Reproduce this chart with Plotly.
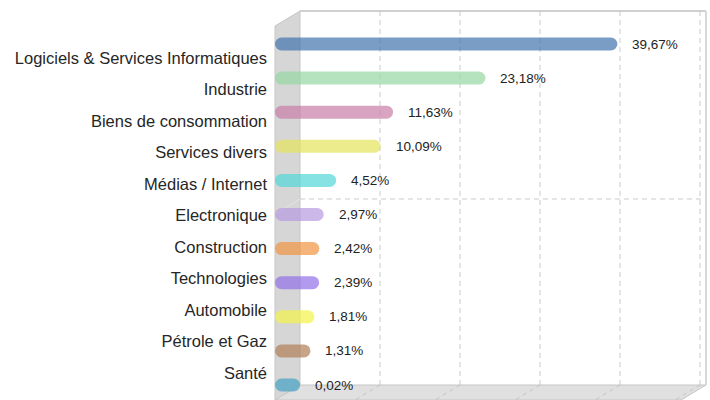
import plotly.graph_objects as go

# ---------------- data ----------------
CATEGORIES = [
    "Logiciels & Services Informatiques", "Industrie", "Biens de consommation",
    "Services divers", "Médias / Internet", "Electronique", "Construction",
    "Technologies", "Automobile", "Pétrole et Gaz", "Santé",
]
VALUES = [39.67, 23.18, 11.63, 10.09, 4.52, 2.97, 2.42, 2.39, 1.81, 1.31, 0.02]
COLORS = ["#4174AC", "#95D7A1", "#C77EA6", "#E4E45B", "#51D7D9", "#B89AE1",
          "#F19441", "#926FE7", "#F4F247", "#B07E55", "#45A1C4"]
GRID_TICKS = [10, 20, 30, 40, 50]

# ---------------- geometry / style ----------------
W, H = 710, 400
PLOT_L = 270
X0_PX, PX_PER_UNIT = 300, 8.0
DX, DY = 25, 15
WALL_TOP, WALL_BOTTOM, WALL_RIGHT = 11, 385, 706
BAR_Y0, BAR_STEP, BAR_PX = 44, 34.1, 13
LAB_Y0, LAB_STEP = 58, 31.5
ALPHA = 0.7
DEPTH_UNITS = DX / PX_PER_UNIT


def xd(px):
    return (px - X0_PX) / PX_PER_UNIT


def yp(py):
    return 1 - py / H


def rgba(hexc, a):
    h = hexc.lstrip("#")
    return "rgba(%d,%d,%d,%.2f)" % (int(h[0:2], 16), int(h[2:4], 16), int(h[4:6], 16), a)


idx = list(range(len(CATEGORIES)))
fill = [rgba(c, ALPHA) for c in COLORS]
bar_w = BAR_PX / BAR_STEP

fig = go.Figure()
fig.add_trace(go.Bar(
    orientation="h", y=idx, base=[-DEPTH_UNITS] * len(VALUES),
    x=[v + DEPTH_UNITS for v in VALUES],
    width=bar_w, marker=dict(color=fill, line=dict(width=0), cornerradius="50%"),
    hoverinfo="skip", showlegend=False,
))
# invisible trace to carry the category label axis
fig.add_trace(go.Scatter(
    x=[0] * len(idx), y=idx, yaxis="y2", mode="markers",
    marker=dict(opacity=0), hoverinfo="skip", showlegend=False,
))

annotations = []
for i, v in zip(idx, VALUES):
    annotations.append(dict(
        x=v, y=i, xref="x", yref="y", xanchor="left", yanchor="middle",
        xshift=13, showarrow=False,
        text=("%.2f" % v).replace(".", ",") + "%",
        font=dict(family="Liberation Sans, Arial, sans-serif", size=13.5, color="#222"),
    ))

grid_col = "#CBCBCB"
edge_col = "#C6C6C6"
shapes = [
    # side wall
    dict(type="path", xref="x", yref="paper", layer="below",
         path="M %f,%f L %f,%f L %f,%f L %f,%f Z" % (
             xd(X0_PX - DX), yp(WALL_TOP + DY), xd(X0_PX), yp(WALL_TOP),
             xd(X0_PX), yp(WALL_BOTTOM), xd(X0_PX - DX), yp(WALL_BOTTOM + DY)),
         fillcolor="#D6D6D6", line=dict(color=edge_col, width=1)),
    # floor
    dict(type="path", xref="x", yref="paper", layer="below",
         path="M %f,%f L %f,%f L %f,%f L %f,%f Z" % (
             xd(X0_PX - DX), yp(WALL_BOTTOM + DY), xd(X0_PX), yp(WALL_BOTTOM),
             xd(WALL_RIGHT), yp(WALL_BOTTOM), xd(WALL_RIGHT - DX), yp(WALL_BOTTOM + DY)),
         fillcolor="#E0E0E0", line=dict(color=edge_col, width=1)),
    # back wall top and right edges
    dict(type="line", xref="x", yref="paper", layer="below",
         x0=xd(X0_PX), x1=xd(WALL_RIGHT), y0=yp(WALL_TOP), y1=yp(WALL_TOP),
         line=dict(color="#D0D0D0", width=2)),
    dict(type="line", xref="x", yref="paper", layer="below",
         x0=xd(WALL_RIGHT), x1=xd(WALL_RIGHT), y0=yp(WALL_TOP), y1=yp(WALL_BOTTOM),
         line=dict(color="#D8D8D8", width=2)),
    # horizontal mid guide
    dict(type="line", xref="x", yref="paper", layer="below",
         x0=xd(X0_PX), x1=xd(WALL_RIGHT), y0=yp(199), y1=yp(199),
         line=dict(color=grid_col, width=1, dash="5px,4px")),
    dict(type="line", xref="x", yref="paper", layer="below",
         x0=xd(X0_PX), x1=xd(X0_PX - DX), y0=yp(199), y1=yp(199 + DY),
         line=dict(color="#E4E4E4", width=1)),
]
for t in GRID_TICKS:
    shapes.append(dict(type="line", xref="x", yref="paper", layer="below",
                       x0=t, x1=t, y0=yp(WALL_BOTTOM), y1=yp(WALL_TOP),
                       line=dict(color=grid_col, width=1, dash="5px,4px")))
    shapes.append(dict(type="line", xref="x", yref="paper", layer="below",
                       x0=t, x1=t - DEPTH_UNITS, y0=yp(WALL_BOTTOM), y1=yp(WALL_BOTTOM + DY),
                       line=dict(color="#C4C4C4", width=1, dash="4px,4px")))

fig.update_layout(
    width=W, height=H,
    margin=dict(l=PLOT_L, r=0, t=0, b=0, pad=0),
    paper_bgcolor="white", plot_bgcolor="rgba(0,0,0,0)",
    barmode="overlay",
    xaxis=dict(range=[xd(PLOT_L), xd(W)], visible=False, fixedrange=True),
    yaxis=dict(range=[(H - BAR_Y0) / BAR_STEP, -BAR_Y0 / BAR_STEP], visible=False,
               domain=[0, 1], fixedrange=True),
    yaxis2=dict(overlaying="y", side="left", anchor="x",
                range=[(H - LAB_Y0) / LAB_STEP, -LAB_Y0 / LAB_STEP],
                tickvals=idx, ticktext=CATEGORIES, ticks="", showgrid=False,
                zeroline=False, showline=False, automargin=False,
                ticklabelstandoff=2,
                tickfont=dict(family="Liberation Sans, Arial, sans-serif", size=16.5, color="#262626"),
                fixedrange=True),
    shapes=shapes, annotations=annotations,
    font=dict(family="Liberation Sans, Arial, sans-serif"),
)

fig.write_html("out.html", config={"displayModeBar": False},
               post_script="document.body.style.margin='0';")
